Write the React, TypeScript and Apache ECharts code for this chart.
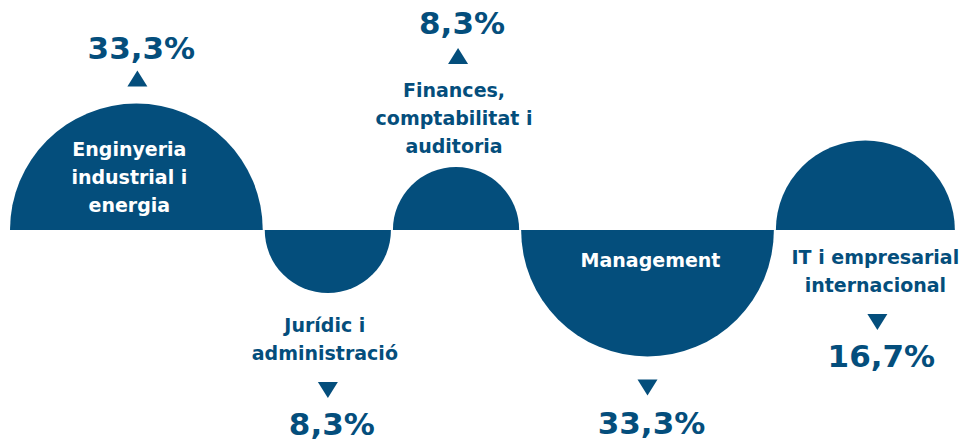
import React, { useEffect, useRef } from "react";
import * as echarts from "echarts";

// ---- data ----
const categories = [
  "Enginyeria\nindustrial i\nenergia",
  "Jurídic i\nadministració",
  "Finances,\ncomptabilitat i\nauditoria",
  "Management",
  "IT i empresarial\ninternacional",
];
const shares = [33.3, 8.3, 8.3, 33.3, 16.7];
const directions = [1, -1, 1, -1, 1]; // 1 = above baseline, -1 = below
const labelModes = ["inside", "outside", "outside", "inside", "below"];

// ---- layout ----
const W = 964;
const H = 444;
const BASELINE = 230;
const START_X = 10;
const GAP = 2;
const K = 21.9; // radius per sqrt(percentage): area proportional to share
const COLOR = "#044e7c";
const FONT = "'DejaVu Sans', sans-serif";
const LABEL_SIZE = 19;
const LINE_H = 28;
const PCT_SIZE = 31;
const labelDx = [-7, -3, -2, 3, 10];
const markDx = [1, 0, 2, 0, 12];

const radii = shares.map((v) => K * Math.sqrt(v));
const centers: number[] = [];
{
  let x = START_X;
  radii.forEach((r) => {
    centers.push(x + r);
    x += 2 * r + GAP;
  });
}
const seriesData = shares.map((v, i) => ({
  value: [centers[i], BASELINE, radii[i], directions[i], i],
}));

const fmt = (v: number) => v.toFixed(1).replace(".", ",") + "%";

export default function App() {
  const ref = useRef<HTMLDivElement>(null);
  useEffect(() => {
    if (!ref.current) return;
    const chart = echarts.init(ref.current, null, { renderer: "svg" });
    const renderItem = (params: any, api: any) => {
      const idx = api.value(4);
      const c = api.coord([api.value(0), api.value(1)]);
      const r = api.size([api.value(2), 0])[0];
      const dir = api.value(3);
      const cx0 = c[0];
      const lx = cx0 + labelDx[idx];
      const mx = cx0 + markDx[idx];
      const cy = c[1];
      const mode = labelModes[idx];
      const text = categories[idx];
      const nLines = text.split("\n").length;
      const blockH = nLines * LINE_H;
      const children: any[] = [];
      children.push({
        type: "sector",
        shape: {
          cx: cx0,
          cy,
          r0: 0,
          r,
          startAngle: dir > 0 ? Math.PI : 0,
          endAngle: dir > 0 ? 2 * Math.PI : Math.PI,
          clockwise: true,
        },
        style: { fill: COLOR },
      });
      const labelStyle = (y: number, va: string, fill: string) => ({
        type: "text",
        style: {
          text,
          x: lx,
          y,
          align: "center",
          verticalAlign: va,
          fill,
          fontFamily: FONT,
          fontWeight: 700,
          fontSize: LABEL_SIZE,
          lineHeight: LINE_H,
        },
      });
      const tri = (top: number, pointUp: boolean) => ({
        type: "polygon",
        shape: {
          points: pointUp
            ? [
                [mx - 10, top + 16],
                [mx + 10, top + 16],
                [mx, top],
              ]
            : [
                [mx - 10, top],
                [mx + 10, top],
                [mx, top + 16],
              ],
        },
        style: { fill: COLOR },
      });
      const pct = (y: number) => ({
        type: "text",
        style: {
          text: fmt(shares[idx]),
          x: mx + 4,
          y,
          align: "center",
          verticalAlign: "middle",
          fill: COLOR,
          fontFamily: FONT,
          fontWeight: 700,
          fontSize: PCT_SIZE,
        },
      });
      if (dir > 0) {
        const top = cy - r;
        if (mode === "inside") {
          children.push(labelStyle(cy - r * 0.42, "middle", "#ffffff"));
          const triTop = top - 33;
          children.push(tri(triTop, true));
          children.push(pct(triTop - 23));
        } else if (mode === "outside") {
          const blockTop = top - 7 - blockH;
          children.push(labelStyle(blockTop, "top", COLOR));
          const triTop = blockTop - 28;
          children.push(tri(triTop, true));
          children.push(pct(triTop - 25));
        } else {
          const blockTop = cy + 13;
          children.push(labelStyle(blockTop, "top", COLOR));
          const triTop = blockTop + blockH + 15;
          children.push(tri(triTop, false));
          children.push(pct(triTop + 16 + 26));
        }
      } else {
        const bottom = cy + r;
        if (mode === "inside") {
          children.push(labelStyle(cy + 30, "middle", "#ffffff"));
          const triTop = bottom + 23;
          children.push(tri(triTop, false));
          children.push(pct(triTop + 16 + 28));
        } else {
          const blockTop = bottom + 18;
          children.push(labelStyle(blockTop, "top", COLOR));
          const triTop = blockTop + blockH + 15;
          children.push(tri(triTop, false));
          children.push(pct(triTop + 16 + 26));
        }
      }
      return { type: "group", children };
    };
    chart.setOption({
      animation: false,
      backgroundColor: "#ffffff",
      grid: { left: 0, right: 0, top: 0, bottom: 0 },
      xAxis: { type: "value", min: 0, max: W, show: false },
      yAxis: { type: "value", min: 0, max: H, inverse: true, show: false },
      series: [
        {
          type: "custom",
          coordinateSystem: "cartesian2d",
          renderItem,
          encode: { x: 0, y: 1 },
          data: seriesData,
          clip: false,
        },
      ],
    });
    return () => chart.dispose();
  }, []);
  return (
    <div
      ref={ref}
      style={{ position: "fixed", left: 0, top: 0, width: W, height: H }}
    />
  );
}
